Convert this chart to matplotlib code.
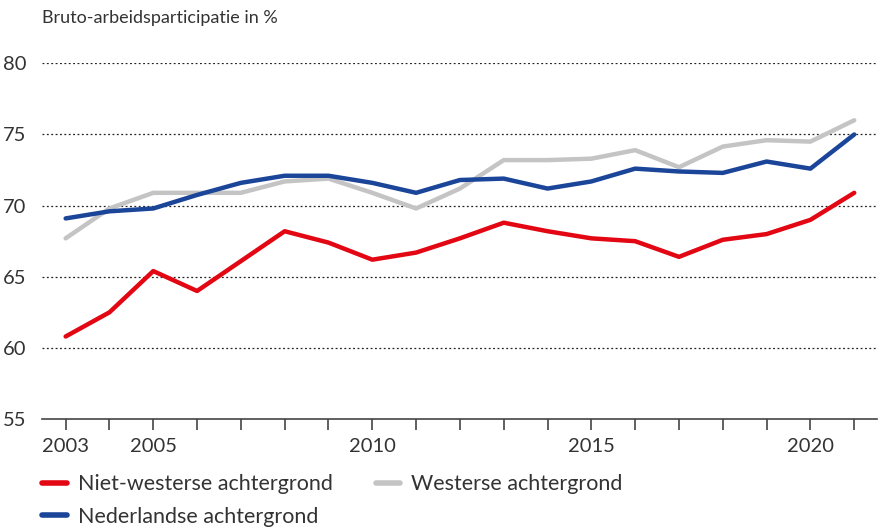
import matplotlib.pyplot as plt
from matplotlib.lines import Line2D

years = list(range(2003, 2022))
niet_westers = [60.8, 62.5, 65.4, 64.0, 66.1, 68.2, 67.4, 66.2, 66.7, 67.7,
                68.8, 68.2, 67.7, 67.5, 66.4, 67.6, 68.0, 69.0, 70.9]
westers = [67.7, 69.8, 70.9, 70.9, 70.9, 71.7, 71.9, 70.9, 69.8, 71.2,
           73.2, 73.2, 73.3, 73.9, 72.7, 74.15, 74.6, 74.5, 76.0]
nederlands = [69.1, 69.6, 69.8, 70.75, 71.6, 72.1, 72.1, 71.6, 70.9, 71.8,
              71.9, 71.2, 71.7, 72.6, 72.4, 72.3, 73.1, 72.6, 75.0]
labeled_years = [2003, 2005, 2010, 2015, 2020]
yticks = [55, 60, 65, 70, 75, 80]

plt.rcParams['font.family'] = ['Lato', 'DejaVu Sans']
red = '#e30613'
grey = '#c4c4c4'
blue = '#1a4599'
txt = '#333333'

fig = plt.figure(figsize=(8.8, 5.28), dpi=100)
ax = fig.add_axes([0.0477, 0.2064, 0.9489, 0.6736])

ax.plot(years, westers, color=grey, lw=3.2, solid_capstyle='round', zorder=3)
ax.plot(years, nederlands, color=blue, lw=3.2, solid_capstyle='round', zorder=4)
ax.plot(years, niet_westers, color=red, lw=3.2, solid_capstyle='round', zorder=5)

ax.set_xlim(2002.46, 2021.52)
ax.set_ylim(55, 80)
for y in yticks[1:]:
    ax.axhline(y, color='#222222', lw=0.9, ls=(0, (1.5, 2)), zorder=1)

for s in ['top', 'right', 'left']:
    ax.spines[s].set_visible(False)
ax.spines['bottom'].set_color('#444444')
ax.spines['bottom'].set_linewidth(1.2)

ax.set_yticks(yticks)
ax.set_yticklabels([str(v) for v in yticks])
ax.tick_params(axis='y', length=0, pad=11, labelsize=14.5, labelcolor=txt)
ax.set_xticks(years)
ax.set_xticklabels([str(y) if y in labeled_years else '' for y in years])
ax.tick_params(axis='x', length=8, width=1.2, color='#444444', pad=6,
               labelsize=14.5, labelcolor=txt)

fig.text(0.0477, 0.965, 'Bruto-arbeidsparticipatie in %', fontsize=13,
         color=txt, va='center', ha='left')

handles = [Line2D([], [], color=red, lw=4, solid_capstyle='round'),
           Line2D([], [], color=blue, lw=4, solid_capstyle='round'),
           Line2D([], [], color=grey, lw=4, solid_capstyle='round')]
labels = ['Niet-westerse achtergrond', 'Nederlandse achtergrond',
          'Westerse achtergrond']
leg = fig.legend(handles, labels, ncol=2, loc='upper left',
                 bbox_to_anchor=(0.048, 0.102), frameon=False, fontsize=15.5,
                 handlelength=1.15, handletextpad=0.5, columnspacing=2.0,
                 labelspacing=0.58, borderaxespad=0, borderpad=0)
for t in leg.get_texts():
    t.set_color(txt)

fig.savefig('out.png', dpi=100)
